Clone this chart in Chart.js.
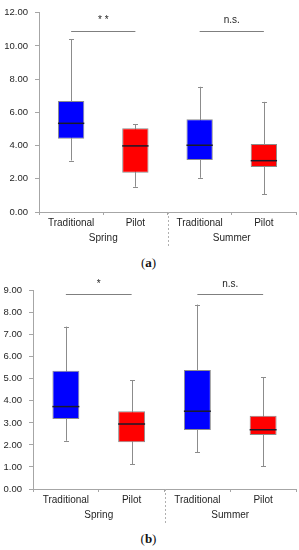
<!DOCTYPE html>
<html>
<head>
<meta charset="utf-8">
<script src="https://cdn.jsdelivr.net/npm/chart.js@4.4.1/dist/chart.umd.min.js"></script>
<style>
  body { margin: 0; background: #fff; }
  #wrap { position: relative; width: 299px; height: 550px; }
  canvas { position: absolute; left: 0; }
  .cap { position: absolute; left: 0; width: 297px; text-align: center;
         font-family: "Liberation Serif", serif; font-size: 13px; color: #111; }
</style>
</head>
<body>
<div id="wrap">
  <canvas id="chart-a" width="299" height="252" style="top:0"></canvas>
  <div class="cap" style="top:255px">(<b>a</b>)</div>
  <canvas id="chart-b" width="299" height="256" style="top:274px"></canvas>
  <div class="cap" style="top:531px">(<b>b</b>)</div>
</div>
<script>
// Boîtes à moustaches : Chart.js n'a pas de type boxplot, donc barres
// flottantes [q1, q3] + plugin pour moustaches, médianes et crochets.
var categories = ["Traditional", "Pilot", "Traditional", "Pilot"];
var seasons = ["Spring", "Summer"];
var boxColors = ["#0000ff", "#ff0000", "#0000ff", "#ff0000"];

// (a)
var aMin = [3.10, 1.52, 2.06, 1.07];
var aQ1 = [4.41, 2.37, 3.13, 2.71];
var aMedian = [5.34, 3.98, 4.02, 3.09];
var aQ3 = [6.69, 5.04, 5.58, 4.10];
var aMax = [10.39, 5.28, 7.54, 6.63];
var aSig = ["* *", "n.s."];
var aSigLevel = [10.88, 10.88];

// (b)
var bMin = [2.19, 1.12, 1.67, 1.04];
var bQ1 = [3.18, 2.12, 2.68, 2.45];
var bMedian = [3.74, 2.95, 3.53, 2.69];
var bQ3 = [5.37, 3.53, 5.40, 3.33];
var bMax = [7.37, 4.93, 8.37, 5.07];
var bSig = ["*", "n.s."];
var bSigLevel = [8.85, 8.85];

var textColor = "#1f1f1f";
var axisColor = "#a6a6a6";
var whiskerColor = "#8c8c8c";
var font = "'Liberation Sans', Arial, sans-serif";

var boxPlugin = {
  id: "boxExtras",
  beforeDatasetsDraw: function (chart) {
    var o = chart.options.plugins.boxExtras;
    var x = chart.scales.x, y = chart.scales.y, ctx = chart.ctx;
    ctx.save();
    ctx.strokeStyle = whiskerColor;
    ctx.lineWidth = 1;
    o.min.forEach(function (v, i) {
      var px = Math.round(x.getPixelForValue(i)) + 0.5;
      var lo = y.getPixelForValue(v), hi = y.getPixelForValue(o.max[i]);
      ctx.beginPath();
      ctx.moveTo(px, lo); ctx.lineTo(px, hi);
      ctx.moveTo(px - 2.5, Math.round(lo) + 0.5); ctx.lineTo(px + 2.5, Math.round(lo) + 0.5);
      ctx.moveTo(px - 2.5, Math.round(hi) + 0.5); ctx.lineTo(px + 2.5, Math.round(hi) + 0.5);
      ctx.stroke();
    });
    ctx.restore();
  },
  afterDatasetsDraw: function (chart) {
    var o = chart.options.plugins.boxExtras;
    var x = chart.scales.x, y = chart.scales.y, ctx = chart.ctx;
    var meta = chart.getDatasetMeta(0);
    ctx.save();
    // médianes
    ctx.strokeStyle = "#1a1a2a";
    ctx.lineWidth = 1.5;
    o.median.forEach(function (v, i) {
      var bar = meta.data[i];
      var py = y.getPixelForValue(v);
      ctx.beginPath();
      ctx.moveTo(bar.x - bar.width / 2, py); ctx.lineTo(bar.x + bar.width / 2, py);
      ctx.stroke();
    });
    // crochets de significativité
    ctx.strokeStyle = "#7f7f7f";
    ctx.lineWidth = 1;
    ctx.fillStyle = textColor;
    ctx.font = "10px " + font;
    ctx.textAlign = "center";
    ctx.textBaseline = "bottom";
    o.sig.forEach(function (label, g) {
      var x0 = x.getPixelForValue(g * 2), x1 = x.getPixelForValue(g * 2 + 1);
      var py = Math.round(y.getPixelForValue(o.sigLevel[g])) + 0.5;
      ctx.beginPath();
      ctx.moveTo(x0, py); ctx.lineTo(x1, py);
      ctx.stroke();
      ctx.fillText(label, (x0 + x1) / 2, py - o.sigGap);
    });
    // séparateur pointillé entre saisons
    var sx = Math.round(x.getPixelForValue(1.5)) + 0.5;
    ctx.strokeStyle = "#b0b0b0";
    ctx.setLineDash([2, 2]);
    ctx.beginPath();
    ctx.moveTo(sx, chart.chartArea.bottom);
    ctx.lineTo(sx, chart.chartArea.bottom + o.sepLength);
    ctx.stroke();
    ctx.restore();
  },
};

function makeChart(id, d) {
  new Chart(document.getElementById(id), {
    type: "bar",
    data: {
      labels: categories,
      datasets: [{
        data: d.q1.map(function (v, i) { return [v, d.q3[i]]; }),
        backgroundColor: boxColors,
        borderColor: "#8c8c8c",
        borderWidth: 1,
        borderSkipped: false,
        categoryPercentage: 1,
        barPercentage: 0.41,
      }],
    },
    options: {
      responsive: false,
      animation: false,
      layout: { padding: { top: d.padTop, right: 3, bottom: d.padBottom, left: 0 } },
      plugins: {
        legend: { display: false },
        tooltip: { enabled: false },
        boxExtras: {
          min: d.min, max: d.max, median: d.median,
          sig: d.sig, sigLevel: d.sigLevel, sigGap: d.sigGap, sepLength: 36,
        },
      },
      scales: {
        x: {
          grid: { display: true, drawOnChartArea: false, offset: true, color: axisColor, tickLength: 3 },
          border: { color: axisColor },
          ticks: { color: textColor, font: { family: font, size: 10 }, padding: 2, maxRotation: 0 },
          afterFit: function (s) { s.height = 18; },
        },
        x2: {
          type: "category",
          position: "bottom",
          labels: seasons,
          offset: true,
          grid: { display: false, drawTicks: false },
          border: { display: false },
          ticks: { color: textColor, font: { family: font, size: 10 }, padding: 2 },
          afterFit: function (s) { s.height = 20; },
        },
        y: {
          min: 0,
          max: d.yMax,
          grid: { display: true, drawOnChartArea: false, color: axisColor, tickLength: 4 },
          border: { color: axisColor },
          ticks: {
            stepSize: d.step,
            color: textColor,
            font: { family: font, size: 9.5 },
            padding: 7,
            callback: function (v) { return v.toFixed(2); },
          },
          afterFit: function (s) { s.width = d.yWidth; },
        },
      },
    },
    plugins: [boxPlugin],
  });
}

makeChart("chart-a", {
  min: aMin, q1: aQ1, median: aMedian, q3: aQ3, max: aMax,
  sig: aSig, sigLevel: aSigLevel, sigGap: 6,
  yMax: 12, step: 2, yWidth: 39, padTop: 9.5, padBottom: 2,
});
makeChart("chart-b", {
  min: bMin, q1: bQ1, median: bMedian, q3: bQ3, max: bMax,
  sig: bSig, sigLevel: bSigLevel, sigGap: 5,
  yMax: 9, step: 1, yWidth: 33, padTop: 16.7, padBottom: 3,
});
</script>
</body>
</html>
